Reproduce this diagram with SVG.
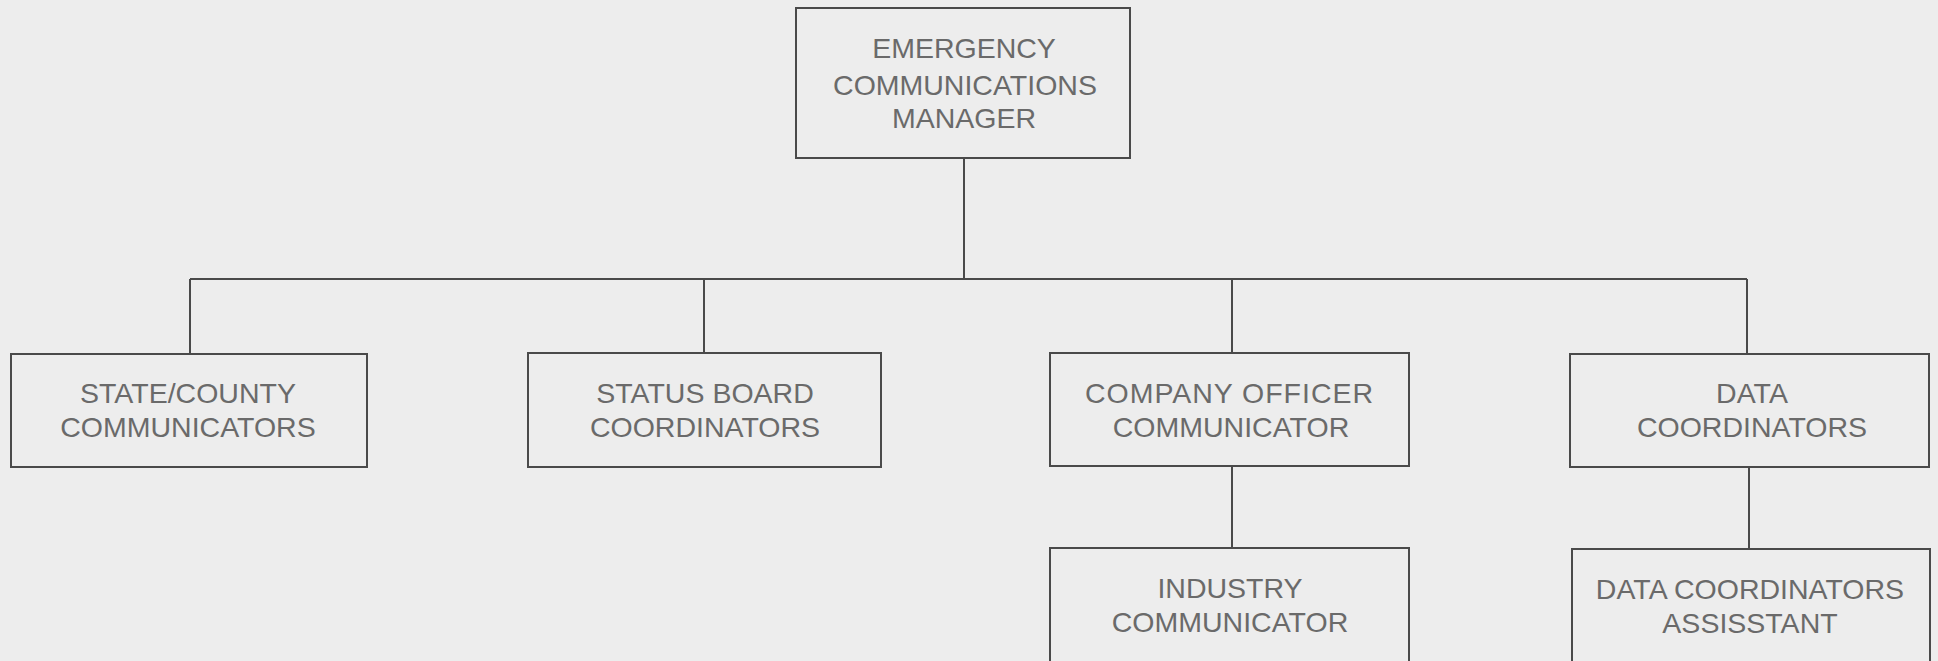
<svg xmlns="http://www.w3.org/2000/svg" width="1938" height="661" viewBox="0 0 1938 661">
  <style>
    .box { fill: none; stroke: #4a4a4a; stroke-width: 2; }
    .wire { fill: none; stroke: #4a4a4a; stroke-width: 2; }
    .label { font-family: "Liberation Sans", Arial, sans-serif; font-size: 28.5px; fill: #6a6a6a; text-anchor: middle; }
  </style>
  <rect width="1938" height="661" fill="#ededed"/>

  <!-- connectors -->
  <g id="connectors">
    <path class="wire" d="M964 158 V279"/>
    <path class="wire" d="M190 279 H1747"/>
    <path class="wire" d="M190 279 V354"/>
    <path class="wire" d="M704 279 V353"/>
    <path class="wire" d="M1232 279 V353"/>
    <path class="wire" d="M1747 279 V354"/>
    <path class="wire" d="M1232 466 V548"/>
    <path class="wire" d="M1749 467 V549"/>
  </g>

  <g id="manager">
    <rect class="box" x="796" y="8" width="334" height="150"/>
    <text class="label" x="964" y="58">EMERGENCY</text>
    <text class="label" x="965" y="95">COMMUNICATIONS</text>
    <text class="label" x="964" y="128">MANAGER</text>
  </g>

  <g id="state-county">
    <rect class="box" x="11" y="354" width="356" height="113"/>
    <text class="label" x="188" y="403">STATE/COUNTY</text>
    <text class="label" x="188" y="437">COMMUNICATORS</text>
  </g>

  <g id="status-board">
    <rect class="box" x="528" y="353" width="353" height="114"/>
    <text class="label" x="705" y="403">STATUS BOARD</text>
    <text class="label" x="705" y="437">COORDINATORS</text>
  </g>

  <g id="company-officer">
    <rect class="box" x="1050" y="353" width="359" height="113"/>
    <text class="label" x="1229" y="403" textLength="288" lengthAdjust="spacing">COMPANY OFFICER</text>
    <text class="label" x="1231" y="437">COMMUNICATOR</text>
  </g>

  <g id="data-coordinators">
    <rect class="box" x="1570" y="354" width="359" height="113"/>
    <text class="label" x="1752" y="403">DATA</text>
    <text class="label" x="1752" y="437">COORDINATORS</text>
  </g>

  <g id="industry">
    <rect class="box" x="1050" y="548" width="359" height="125"/>
    <text class="label" x="1230" y="598">INDUSTRY</text>
    <text class="label" x="1230" y="632">COMMUNICATOR</text>
  </g>

  <g id="data-assistant">
    <rect class="box" x="1572" y="549" width="358" height="125"/>
    <text class="label" x="1750" y="599">DATA COORDINATORS</text>
    <text class="label" x="1750" y="633">ASSISSTANT</text>
  </g>
</svg>
